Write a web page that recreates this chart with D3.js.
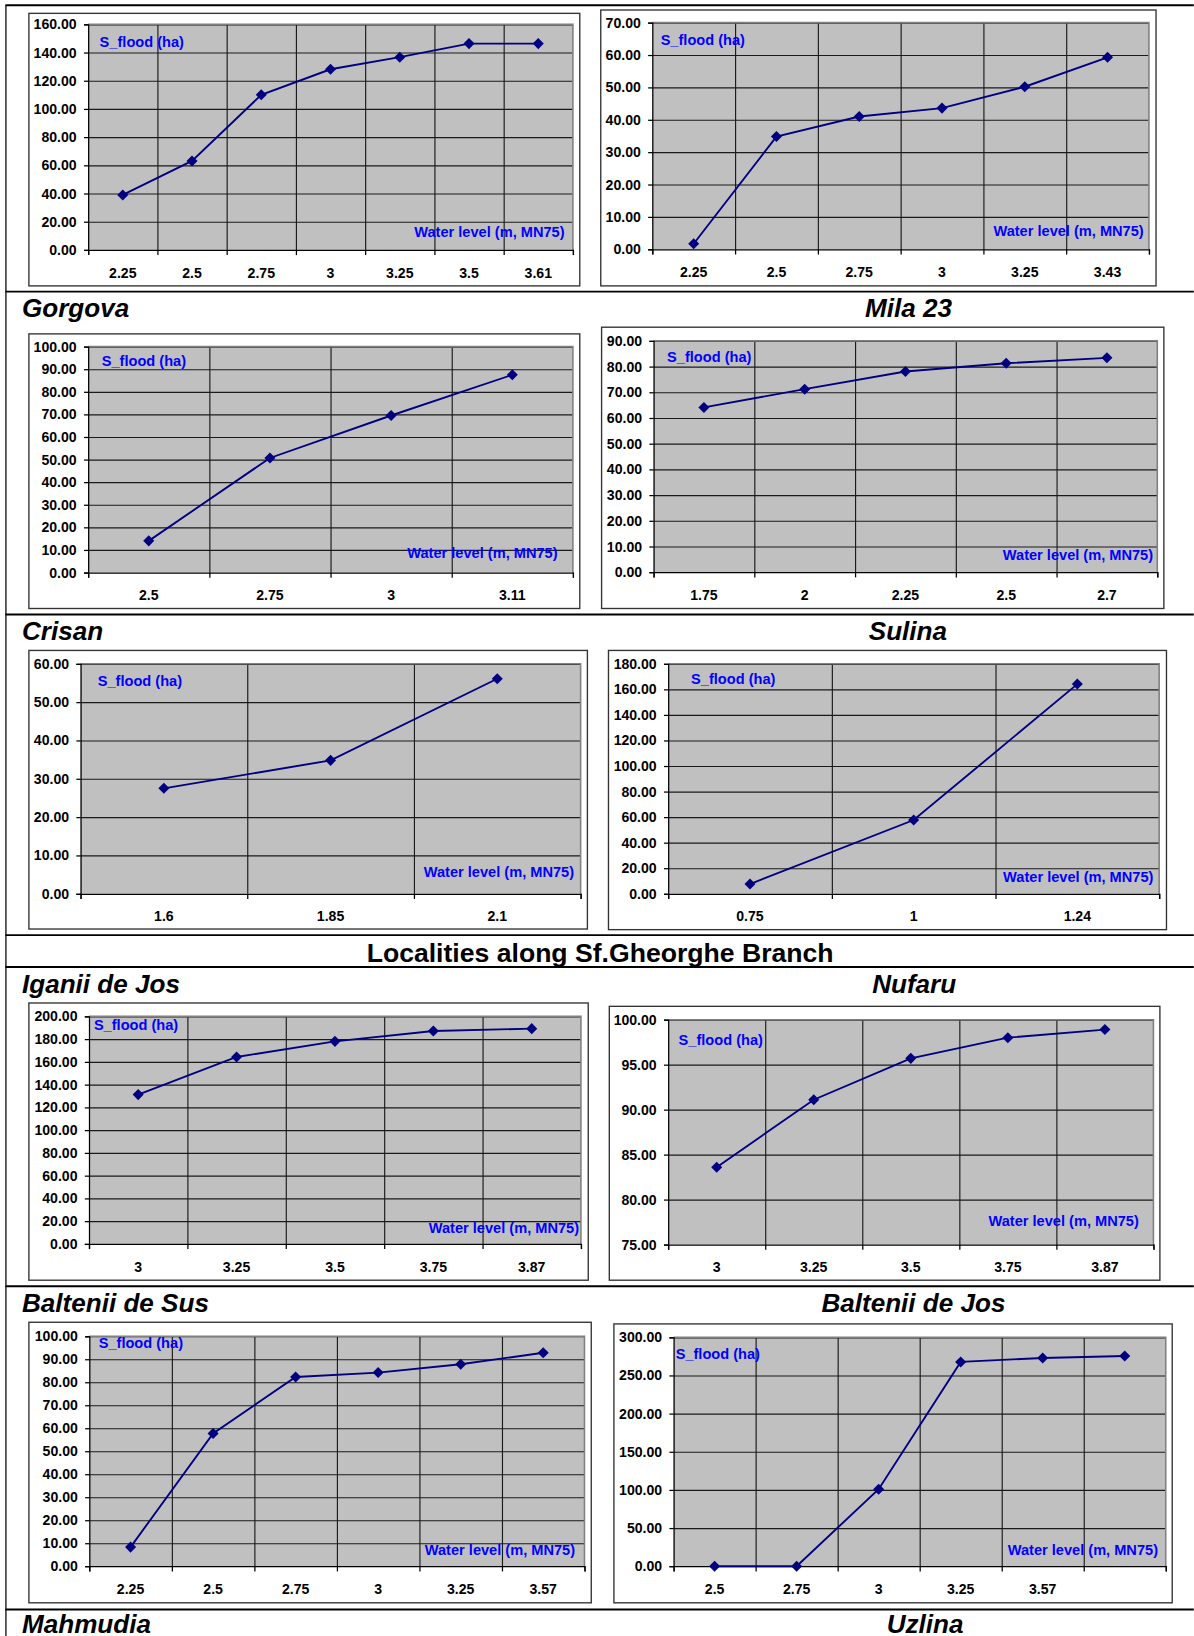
<!DOCTYPE html>
<html>
<head>
<meta charset="utf-8">
<script src="https://cdn.jsdelivr.net/npm/d3@7"></script>
<style>
    body { margin: 0; background: #fff; }
    svg text { font-family: Arial, "Liberation Sans", sans-serif; }
</style>
</head>
<body>
<div id="vis"></div>
<script>
// values, one pair of arrays per chart
const row1LeftLevels = ['2.25', '2.5', '2.75', '3', '3.25', '3.5', '3.61']
const row1LeftFlood = [39.0, 63.1, 110.0, 128.1, 136.7, 146.3, 146.3]
const row1RightLevels = ['2.25', '2.5', '2.75', '3', '3.25', '3.43']
const row1RightFlood = [1.7, 34.8, 41.0, 43.6, 50.2, 59.3]

const gorgovaLevels = ['2.5', '2.75', '3', '3.11']
const gorgovaFlood = [14.0, 50.7, 69.5, 87.5]
const mila23Levels = ['1.75', '2', '2.25', '2.5', '2.7']
const mila23Flood = [64.1, 71.2, 78.1, 81.3, 83.4]

const crisanLevels = ['1.6', '1.85', '2.1']
const crisanFlood = [27.5, 34.8, 56.1]
const sulinaLevels = ['0.75', '1', '1.24']
const sulinaFlood = [7.6, 57.7, 164.1]

const iganiiLevels = ['3', '3.25', '3.5', '3.75', '3.87']
const iganiiFlood = [131.2, 164.3, 178.0, 187.1, 189.2]
const nufaruLevels = ['3', '3.25', '3.5', '3.75', '3.87']
const nufaruFlood = [83.6, 91.1, 95.7, 98.0, 98.9]

const balteniiSusLevels = ['2.25', '2.5', '2.75', '3', '3.25', '3.57']
const balteniiSusFlood = [8.3, 57.7, 82.3, 84.2, 87.8, 92.8]
const balteniiJosLevels = ['2.5', '2.75', '3', '3.25', '3.57', '']
const balteniiJosFlood = [0, 0, 100.9, 267.7, 272.9, 275.5]

// y axis ticks: [min, max, step]
const yTickSpecs = [[0, 160, 20], [0, 70, 10], [0, 100, 10], [0, 90, 10], [0, 60, 10],
    [0, 180, 20], [0, 200, 20], [75, 100, 5], [0, 100, 10], [0, 300, 50]]

const leftCaptions = ['Gorgova', 'Crisan', 'Iganii de Jos', 'Baltenii de Sus', 'Mahmudia']
const rightCaptions = ['Mila 23', 'Sulina', 'Nufaru', 'Baltenii de Jos', 'Uzlina']
const sectionTitle = 'Localities along Sf.Gheorghe Branch'
const yLabel = 'S_flood (ha)'
const xLabel = 'Water level (m, MN75)'

const series = [
    [row1LeftLevels, row1LeftFlood], [row1RightLevels, row1RightFlood],
    [gorgovaLevels, gorgovaFlood], [mila23Levels, mila23Flood],
    [crisanLevels, crisanFlood], [sulinaLevels, sulinaFlood],
    [iganiiLevels, iganiiFlood], [nufaruLevels, nufaruFlood],
    [balteniiSusLevels, balteniiSusFlood], [balteniiJosLevels, balteniiJosFlood]
]

// layout, in the 1144 x 1568 frame of the page
const layout = [
    {box: [27.5, 12.8, 555.5, 274], plot: [84.3, 23.3, 548.9, 239.5], s: [11, 21.4], w: [-8, -12.7]},
    {box: [575.6, 9.6, 1107.8, 274], plot: [625, 21.7, 1101, 238.9], s: [8, 21], w: [-5, -12.8]},
    {box: [27.5, 320, 555.5, 583.2], plot: [84.3, 332.2, 548.9, 548.7], s: [13, 19], w: [-14.7, -13.7]},
    {box: [576.4, 313.6, 1115.3, 583.2], plot: [626.2, 326.7, 1109, 548.4], s: [13, 20], w: [-4, -11.2]},
    {box: [27.5, 623.4, 562.8, 890.4], plot: [77, 636.2, 556.3, 856.6], s: [16.5, 21], w: [-6.3, -16]},
    {box: [583, 623.4, 1117.8, 891], plot: [640.2, 636.2, 1110.8, 856.6], s: [22, 19], w: [-5.5, -10.9]},
    {box: [27.5, 961.3, 563.6, 1227], plot: [85.1, 974.1, 556.6, 1192.2], s: [4.7, 13.4], w: [-1.8, -10.5]},
    {box: [583.8, 964.5, 1111.5, 1227], plot: [640.2, 977.3, 1105.3, 1192.8], s: [10, 24], w: [-14, -17.5]},
    {box: [27.5, 1267.3, 566.5, 1536.2], plot: [85.4, 1280.7, 560, 1501.1], s: [9, 11.2], w: [-9, -11]},
    {box: [588.2, 1268.9, 1123.3, 1536.2], plot: [645.4, 1281.7, 1117.1, 1501.1], s: [2, 20.7], w: [-7.4, -11]}
]
const rules = [5, 279.5, 589, 896.2, 926.8, 1232.8, 1542.6]
const captionRows = [303.4, 613.6, 951.7, 1257.7, 1565]
const rightCaptionX = [870.5, 870, 876, 875.3, 886.4]

const svg = d3.select('#vis')
    .append('svg')
    .attr('width', 1194)
    .attr('height', 1636)
    .attr('viewBox', '0 0 1144 1568')

// table rules
svg.append('line')
    .attr('x1', 5.5).attr('x2', 5.5).attr('y1', 5).attr('y2', 1568)
    .attr('stroke', '#000').attr('stroke-width', 1.2)
svg.selectAll('.rule')
    .data(rules)
    .enter()
    .append('line')
    .attr('class', 'rule')
    .attr('x1', 5).attr('x2', 1144)
    .attr('y1', d => d).attr('y2', d => d)
    .attr('stroke', '#000').attr('stroke-width', 1.8)

svg.append('text')
    .attr('x', 575).attr('y', 922)
    .attr('text-anchor', 'middle')
    .attr('font-size', 25.5).attr('font-weight', 'bold')
    .text(sectionTitle)

leftCaptions.forEach((c, i) => {
    svg.append('text')
        .attr('x', 20.9).attr('y', captionRows[i])
        .attr('font-size', 25).attr('font-weight', 'bold').attr('font-style', 'italic')
        .text(c)
    svg.append('text')
        .attr('x', rightCaptionX[i]).attr('y', captionRows[i])
        .attr('text-anchor', 'middle')
        .attr('font-size', 25).attr('font-weight', 'bold').attr('font-style', 'italic')
        .text(rightCaptions[i])
})

const fmt = d3.format('.2f')

series.forEach(([levels, flood], i) => {
    const L = layout[i]
    const [px0, py0, px1, py1] = L.plot
    const [yMin, yMax, yStep] = yTickSpecs[i]
    const n = levels.length
    const g = svg.append('g')

    g.append('rect')
        .attr('x', L.box[0]).attr('y', L.box[1])
        .attr('width', L.box[2] - L.box[0]).attr('height', L.box[3] - L.box[1])
        .attr('fill', '#fff').attr('stroke', '#333').attr('stroke-width', 1.3)

    const x = d3.scaleBand().domain(d3.range(n)).range([px0, px1])
    const xEdge = d3.scaleLinear().domain([0, n]).range([px0, px1])
    const y = d3.scaleLinear().domain([yMin, yMax]).range([py1, py0])
    const yTicks = d3.range(yMin, yMax + yStep / 2, yStep)

    g.append('rect')
        .attr('x', px0).attr('y', py0)
        .attr('width', px1 - px0).attr('height', py1 - py0)
        .attr('fill', '#c0c0c0')

    // grid
    g.append('g')
        .attr('transform', `translate(${px0},0)`)
        .call(d3.axisLeft(y).tickValues(yTicks.slice(1)).tickSize(-(px1 - px0)).tickFormat(''))
        .call(a => a.select('.domain').remove())
        .selectAll('line').attr('stroke', '#1a1a1a').attr('stroke-width', 1.1)
    g.append('g')
        .attr('transform', `translate(0,${py1})`)
        .call(d3.axisBottom(xEdge).tickValues(d3.range(1, n)).tickSize(-(py1 - py0)).tickFormat(''))
        .call(a => a.select('.domain').remove())
        .selectAll('line').attr('stroke', '#1a1a1a').attr('stroke-width', 1.1)

    // plot border top / right
    g.append('path')
        .attr('d', d3.line()([[px0, py0], [px1, py0], [px1, py1]]))
        .attr('fill', 'none').attr('stroke', '#808080').attr('stroke-width', 1.5)

    // axes
    g.append('g')
        .attr('transform', `translate(${px0},0)`)
        .call(d3.axisLeft(y).tickValues(yTicks).tickSize(4).tickPadding(7).tickFormat(fmt))
        .call(a => a.selectAll('path, line').attr('stroke', '#000').attr('stroke-width', 1.2))
        .call(a => a.selectAll('text').attr('font-size', 13.5).attr('font-weight', 'bold')
            .attr('fill', '#000').attr('font-family', 'Arial, "Liberation Sans", sans-serif'))
    g.append('g')
        .attr('transform', `translate(0,${py1})`)
        .call(d3.axisBottom(xEdge).tickValues(d3.range(0, n + 1)).tickSize(5).tickFormat(''))
        .call(a => a.selectAll('path, line').attr('stroke', '#000').attr('stroke-width', 1.2))
    g.append('g')
        .attr('transform', `translate(0,${py1})`)
        .call(d3.axisBottom(x).tickSize(0).tickFormat(k => levels[k]))
        .call(a => a.select('.domain').remove())
        .call(a => a.selectAll('text').attr('y', 26.5).attr('dy', null)
            .attr('font-size', 13.5).attr('font-weight', 'bold')
            .attr('fill', '#000').attr('font-family', 'Arial, "Liberation Sans", sans-serif'))

    // labels
    g.append('text')
        .attr('x', px0 + L.s[0]).attr('y', py0 + L.s[1])
        .attr('font-size', 14).attr('font-weight', 'bold').attr('fill', '#0000ff')
        .text(yLabel)
    g.append('text')
        .attr('x', px1 + L.w[0]).attr('y', py1 + L.w[1])
        .attr('text-anchor', 'end')
        .attr('font-size', 14).attr('font-weight', 'bold').attr('fill', '#0000ff')
        .text(xLabel)

    // series
    const cx = k => x(k) + x.bandwidth() / 2
    g.append('path')
        .datum(flood)
        .attr('fill', 'none')
        .attr('stroke', '#000080')
        .attr('stroke-width', 1.8)
        .attr('d', d3.line().x((d, k) => cx(k)).y(d => y(d)))
    g.selectAll('.pt')
        .data(flood)
        .enter()
        .append('path')
        .attr('class', 'pt')
        .attr('d', d3.symbol(d3.symbolSquare, 56))
        .attr('transform', (d, k) => `translate(${cx(k)},${y(d)}) rotate(45)`)
        .attr('fill', '#000080')
})
</script>
</body>
</html>
